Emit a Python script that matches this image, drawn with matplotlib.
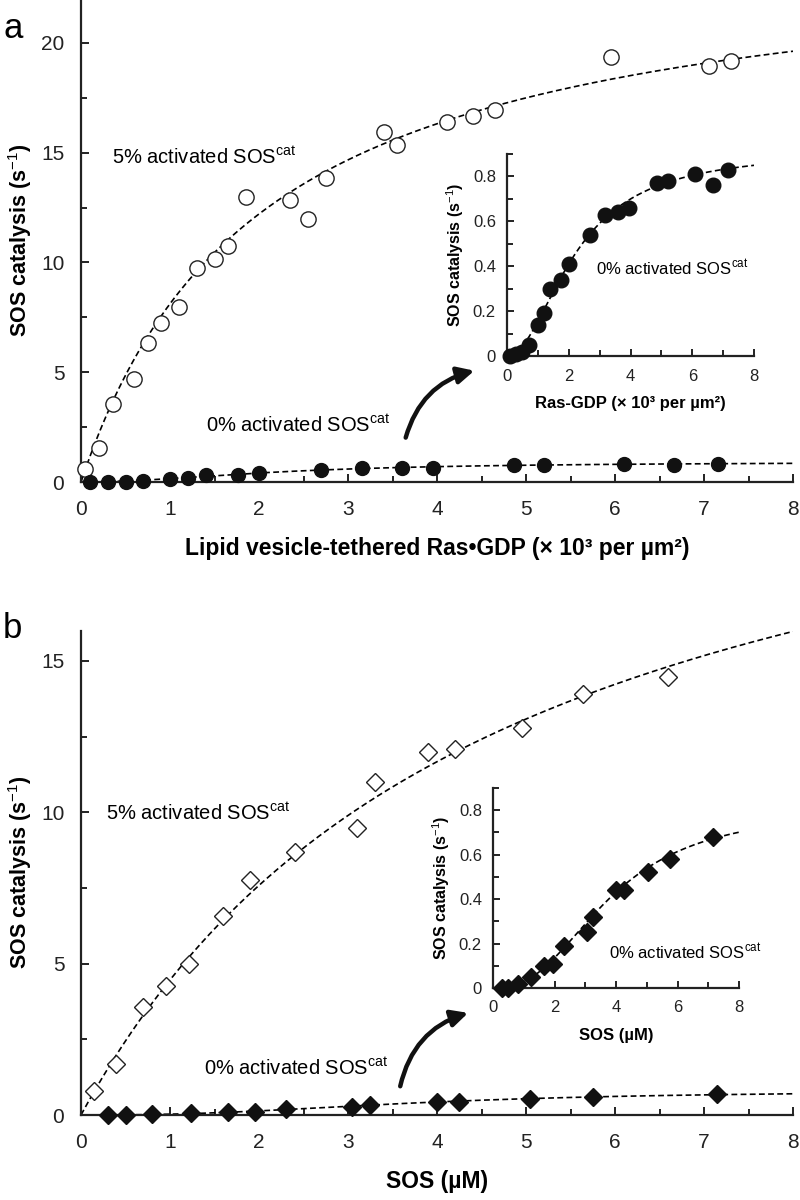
import numpy as np
import matplotlib.pyplot as plt
from matplotlib.ticker import MultipleLocator

plt.rcParams['font.family'] = ['Liberation Sans', 'DejaVu Sans']
plt.rcParams['mathtext.fontset'] = 'custom'
plt.rcParams['mathtext.rm'] = 'Liberation Sans'
plt.rcParams['mathtext.bf'] = 'Liberation Sans:bold'

# パネルa: 5% activated SOScat (白丸)
a_open_x = [0.05, 0.2, 0.36, 0.6, 0.75, 0.9, 1.1, 1.3, 1.51, 1.65, 1.85, 2.35, 2.55,
            2.75, 3.4, 3.55, 4.11, 4.41, 4.65, 5.96, 7.06, 7.3]
a_open_y = [0.6, 1.56, 3.55, 4.7, 6.35, 7.26, 7.96, 9.76, 10.16, 10.77, 12.97, 12.85,
            11.97, 13.86, 15.96, 15.35, 16.38, 16.67, 16.95, 19.38, 18.97, 19.18]
# パネルa: 0% activated SOScat (黒丸)
a_fill_x = [0.1, 0.3, 0.5, 0.7, 1.0, 1.2, 1.4, 1.76, 2.0, 2.7, 3.16, 3.61, 3.95,
            4.86, 5.2, 6.1, 6.66, 7.16]
a_fill_y = [0.0, 0.01, 0.02, 0.05, 0.14, 0.19, 0.30, 0.34, 0.41, 0.54, 0.63, 0.64,
            0.66, 0.77, 0.78, 0.81, 0.76, 0.83]

# パネルb: 5% activated SOScat (白ダイヤ)
b_open_x = [0.15, 0.39, 0.7, 0.95, 1.21, 1.6, 1.9, 2.4, 3.1, 3.3, 3.9, 4.2, 4.95, 5.64, 6.6]
b_open_y = [0.8, 1.68, 3.58, 4.27, 4.99, 6.58, 7.76, 8.7, 9.49, 10.99, 12.0, 12.09,
            12.8, 13.9, 14.48]
# パネルb: 0% activated SOScat (黒ダイヤ)
b_fill_x = [0.3, 0.5, 0.8, 1.24, 1.65, 1.95, 2.3, 3.05, 3.25, 4.0, 4.25, 5.05, 5.75, 7.15]
b_fill_y = [0.0, 0.0, 0.02, 0.05, 0.10, 0.11, 0.19, 0.25, 0.32, 0.44, 0.44, 0.52, 0.58, 0.68]

# フィット曲線のパラメータ (Michaelis-Menten / Hill)
a_mm = (24.6, 2.03)          # Vmax, K
a_hill = (0.915, 2.22, 2.0)  # Vmax, K, n
b_mm = (25.3, 4.67)
b_hill = (0.81, 3.8, 2.5)

xs = np.linspace(0, 8, 300)


def mm(x, p):
    return p[0] * x / (p[1] + x)


def hill(x, p):
    return p[0] * x ** p[2] / (p[1] ** p[2] + x ** p[2])


dash = dict(color='black', lw=1.2, ls=(0, (3.5, 2)), zorder=2)
arrow = dict(arrowstyle='-|>,head_length=1.0,head_width=0.5', lw=3.2,
             color='#111111', connectionstyle='arc3,rad=-0.3')


def style(ax, major, minor, labsize, xpad, ypad, maj_len=6, min_len=4):
    for s in ['top', 'right']:
        ax.spines[s].set_visible(False)
    for s in ['left', 'bottom']:
        ax.spines[s].set_linewidth(1.6)
        ax.spines[s].set_color('#222222')
    ax.xaxis.set_major_locator(MultipleLocator(major[0]))
    ax.xaxis.set_minor_locator(MultipleLocator(minor[0]))
    ax.yaxis.set_major_locator(MultipleLocator(major[1]))
    ax.yaxis.set_minor_locator(MultipleLocator(minor[1]))
    ax.tick_params(which='major', direction='in', length=maj_len, width=1.4,
                   labelsize=labsize, colors='#222222')
    ax.tick_params(which='minor', direction='in', length=min_len, width=1.4,
                   colors='#222222')
    ax.tick_params(axis='x', pad=xpad)
    ax.tick_params(axis='y', pad=ypad)


fig = plt.figure(figsize=(8, 12), dpi=100)

# ---- パネル a ----
ax1 = fig.add_axes([0.10125, 0.59833, 0.89, 0.4025])
ax1.plot(xs, mm(xs, a_mm), **dash)
ax1.plot(xs, hill(xs, a_hill), **dash)
ax1.plot(a_open_x, a_open_y, 'o', ms=11, mfc='white', mec='#222222', mew=1.0,
         ls='none', clip_on=False, zorder=3)
ax1.plot(a_fill_x, a_fill_y, 'o', ms=10, mfc='#111111', mec='#111111',
         ls='none', clip_on=False, zorder=3)
ax1.set_xlim(0, 8)
ax1.set_ylim(0, 22)
style(ax1, (1, 5), (0.5, 2.5), 15, 13, 12)
ax1.set_xticks(range(9))
ax1.set_yticks([0, 5, 10, 15, 20])
ax1.set_ylabel('SOS catalysis (s$^{-1}$)', fontsize=15.5, fontweight='bold', labelpad=5)
ax1.set_xlabel('Lipid vesicle-tethered Ras\u2022GDP (\u00d7 10\u00b3 per \u00b5m\u00b2)',
               fontsize=16.5, fontweight='bold', labelpad=13)
ax1.text(0.35, 14.8, '5% activated SOS$^{\\mathrm{cat}}$', fontsize=14.5, va='center')
ax1.text(1.41, 2.6, '0% activated SOS$^{\\mathrm{cat}}$', fontsize=14.5, va='center')
ax1.annotate('', xy=(4.45, 5.1), xytext=(3.64, 1.9), arrowprops=arrow)
fig.text(0.004, 0.9683, 'a', fontsize=25, va='baseline')

# インセット a
in1 = fig.add_axes([0.63375, 0.70333, 0.30875, 0.16833])
in1.plot(xs, hill(xs, a_hill), **dash)
in1.plot(a_fill_x, a_fill_y, 'o', ms=10.5, mfc='#111111', mec='#111111',
         ls='none', clip_on=False, zorder=3)
in1.set_xlim(0, 8)
in1.set_ylim(0, 0.9)
style(in1, (2, 0.2), (1, 0.1), 12, 9, 8, maj_len=5, min_len=4)
in1.set_xticks([0, 2, 4, 6, 8])
in1.set_yticks([0, 0.2, 0.4, 0.6, 0.8])
in1.set_yticklabels(['0', '0.2', '0.4', '0.6', '0.8'])
in1.set_ylabel('SOS catalysis (s$^{-1}$)', fontsize=11.5, fontweight='bold', labelpad=5)
in1.set_xlabel('Ras-GDP (\u00d7 10\u00b3 per \u00b5m\u00b2)', fontsize=12,
               fontweight='bold', labelpad=9)
in1.text(2.88, 0.39, '0% activated SOS$^{\\mathrm{cat}}$', fontsize=12, va='center')

# ---- パネル b ----
ax2 = fig.add_axes([0.10125, 0.07083, 0.89, 0.4036])
ax2.plot(xs, mm(xs, b_mm), **dash)
ax2.plot(xs, hill(xs, b_hill), **dash)
ax2.plot(b_open_x, b_open_y, 'D', ms=9, mfc='white', mec='#222222', mew=1.0,
         ls='none', clip_on=False, zorder=3)
ax2.plot(b_fill_x, b_fill_y, 'D', ms=9, mfc='#111111', mec='#111111',
         ls='none', clip_on=False, zorder=3)
ax2.set_xlim(0, 8)
ax2.set_ylim(0, 16)
style(ax2, (1, 5), (0.5, 2.5), 15, 13, 12)
ax2.set_xticks(range(9))
ax2.set_yticks([0, 5, 10, 15])
ax2.set_ylabel('SOS catalysis (s$^{-1}$)', fontsize=15.5, fontweight='bold', labelpad=5)
ax2.set_xlabel('SOS (\u00b5M)', fontsize=16.5, fontweight='bold', labelpad=13)
ax2.text(0.28, 9.98, '5% activated SOS$^{\\mathrm{cat}}$', fontsize=14.5, va='center')
ax2.text(1.38, 1.55, '0% activated SOS$^{\\mathrm{cat}}$', fontsize=14.5, va='center')
ax2.annotate('', xy=(4.38, 3.4), xytext=(3.58, 0.86), arrowprops=arrow)
fig.text(0.004, 0.4683, 'b', fontsize=25, va='baseline')

# インセット b
in2 = fig.add_axes([0.61625, 0.17667, 0.3075, 0.16667])
in2.plot(xs, hill(xs, b_hill), **dash)
in2.plot(b_fill_x, b_fill_y, 'D', ms=9, mfc='#111111', mec='#111111',
         ls='none', clip_on=False, zorder=3)
in2.set_xlim(0, 8)
in2.set_ylim(0, 0.9)
style(in2, (2, 0.2), (1, 0.1), 12, 9, 8, maj_len=5, min_len=4)
in2.set_xticks([0, 2, 4, 6, 8])
in2.set_yticks([0, 0.2, 0.4, 0.6, 0.8])
in2.set_yticklabels(['0', '0.2', '0.4', '0.6', '0.8'])
in2.set_ylabel('SOS catalysis (s$^{-1}$)', fontsize=11.5, fontweight='bold', labelpad=5)
in2.set_xlabel('SOS (\u00b5M)', fontsize=12, fontweight='bold', labelpad=9)
in2.text(3.77, 0.16, '0% activated SOS$^{\\mathrm{cat}}$', fontsize=12, va='center')

fig.savefig('out.png', dpi=100)
